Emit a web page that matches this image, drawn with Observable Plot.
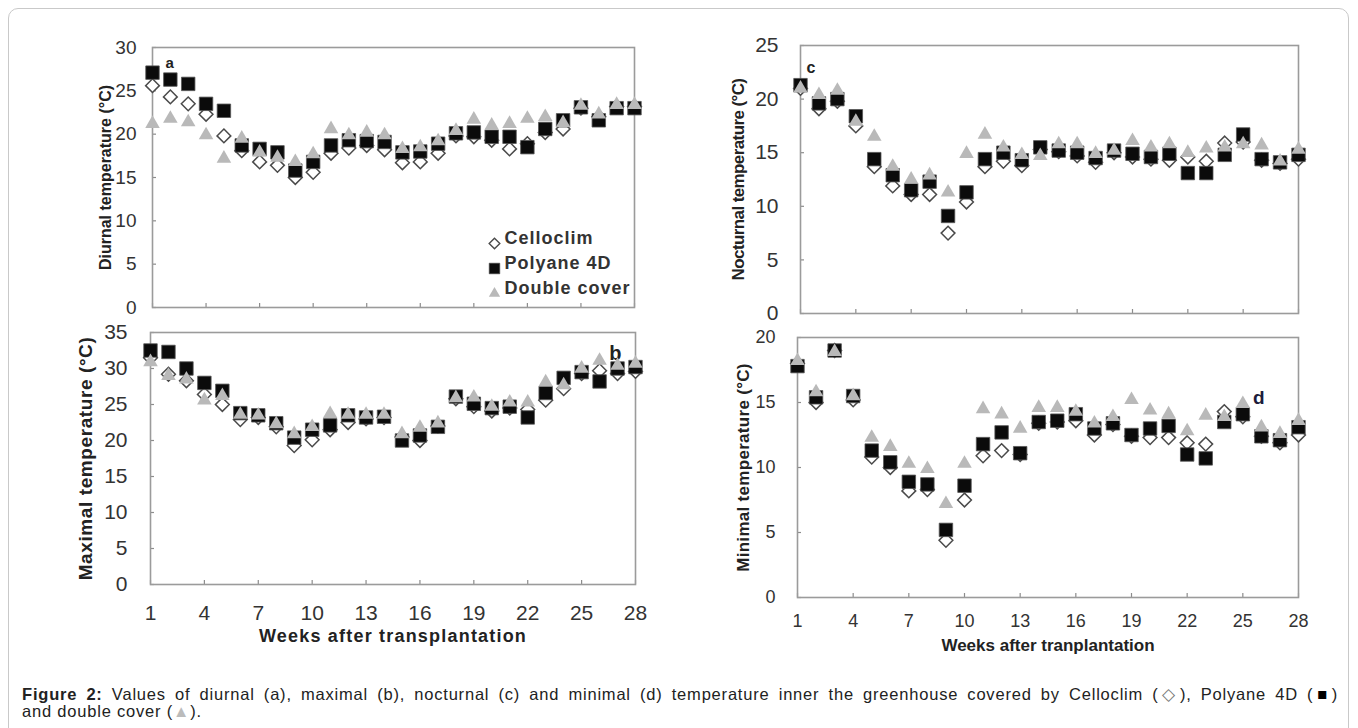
<!DOCTYPE html>
<html>
<head>
<meta charset="utf-8">
<script src="https://cdn.jsdelivr.net/npm/d3@7"></script>
<script src="https://cdn.jsdelivr.net/npm/@observablehq/plot@0.6"></script>
<style>
  body { margin: 0; background: #fff; }
  #fig { position: relative; width: 1358px; height: 728px; overflow: hidden; font-family: "Liberation Sans", Arial, sans-serif; background: #fff; }
  #border { position: absolute; left: 8px; top: 8px; width: 1341px; height: 740px; border: 1px solid #c9c9c9; border-radius: 10px; box-sizing: border-box; }
  .panel { position: absolute; }
  .cap { position: absolute; left: 22px; width: 1316px; font-size: 16.5px; letter-spacing: 0.8px; color: #222; line-height: 17px; }
  #cap1 { top: 686px; text-align: justify; text-align-last: justify; }
  #cap2 { top: 703px; }
</style>
</head>
<body>
<div id="fig">
  <div id="border"></div>
  <div id="cap1" class="cap"><b>Figure 2:</b> Values of diurnal (a), maximal (b), nocturnal (c) and minimal (d) temperature inner the greenhouse covered by Celloclim (<span style="color:#777">◇</span>), Polyane 4D (<span style="color:#000">■</span>)</div>
  <div id="cap2" class="cap">and double cover (<span style="color:#bbb">▲</span>).</div>
</div>
<script>
// ---------- data ----------
const weeks = [1,2,3,4,5,6,7,8,9,10,11,12,13,14,15,16,17,18,19,20,21,22,23,24,25,26,27,28];
const xTickValues = [1,4,7,10,13,16,19,22,25,28];
const seriesNames = ["Celloclim", "Polyane 4D", "Double cover"];

// (a) diurnal temperature
const diurnalCelloclim = [25.6,24.3,23.5,22.3,19.8,18.1,16.8,16.4,15.0,15.6,17.8,18.4,18.7,18.2,16.7,16.8,17.8,19.8,19.7,19.3,18.3,18.9,20.2,20.6,23.0,22.0,23.2,23.2];
const diurnalPolyane   = [27.1,26.3,25.8,23.5,22.7,18.7,18.3,17.9,15.8,16.8,18.7,19.3,19.2,19.1,17.9,18.0,18.9,20.1,20.2,19.7,19.7,18.5,20.6,21.6,23.1,21.6,23.0,23.0];
const diurnalDouble    = [21.2,21.8,21.4,19.9,17.2,19.5,17.9,17.3,16.8,17.7,20.6,19.9,20.2,19.9,18.3,18.5,19.2,20.4,21.7,21.0,21.2,21.8,22.0,21.3,23.3,22.3,23.4,23.4];

// (b) maximal temperature
const maximalCelloclim = [31.5,29.2,28.3,26.4,25.0,22.9,23.2,21.9,19.3,20.1,21.5,22.5,23.0,23.2,20.5,20.0,22.0,25.8,24.7,24.1,24.5,24.3,25.6,27.2,29.3,29.7,29.3,29.6];
const maximalPolyane   = [32.5,32.3,30.0,28.0,26.9,23.8,23.5,22.4,20.4,21.5,22.1,23.5,23.2,23.3,20.0,20.7,21.9,26.1,25.1,24.5,24.7,23.2,26.6,28.7,29.5,28.2,30.0,30.2];
const maximalDouble    = [30.9,29.0,28.5,25.6,26.2,23.6,23.5,22.3,20.9,21.9,23.7,23.6,23.6,23.6,20.9,21.8,22.4,25.9,26.0,24.7,25.3,25.3,28.1,27.7,30.0,31.1,30.4,30.7];

// (c) nocturnal temperature
const nocturnalCelloclim = [21.0,19.1,19.8,17.5,13.7,11.9,11.1,11.1,7.5,10.4,13.7,14.2,13.8,15.3,15.1,14.7,14.1,15.0,14.6,14.4,14.3,14.6,14.2,15.9,16.0,14.3,14.0,14.4];
const nocturnalPolyane   = [21.3,19.6,20.0,18.4,14.4,12.9,11.5,12.3,9.1,11.3,14.4,15.0,14.3,15.5,15.2,15.0,14.5,15.2,14.9,14.6,14.9,13.1,13.1,14.8,16.7,14.4,14.1,14.8];
const nocturnalDouble    = [21.0,20.4,20.8,17.9,16.5,13.7,12.5,12.9,11.3,14.9,16.7,15.5,14.8,14.7,15.8,15.8,14.9,15.2,16.1,15.5,15.8,15.0,15.4,15.5,15.8,15.7,14.2,15.3];

// (d) minimal temperature
const minimalCelloclim = [18.0,15.0,19.0,15.2,10.8,10.0,8.2,8.3,4.4,7.5,10.9,11.3,11.0,13.4,13.5,13.6,12.5,13.3,12.4,12.3,12.3,11.9,11.8,14.3,13.9,12.4,11.9,12.5];
const minimalPolyane   = [17.8,15.4,19.0,15.5,11.3,10.4,8.9,8.7,5.2,8.6,11.8,12.7,11.1,13.5,13.6,14.1,13.0,13.4,12.5,13.0,13.2,11.0,10.7,13.5,14.1,12.4,12.1,13.1];
const minimalDouble    = [18.2,15.8,18.9,15.5,12.3,11.6,10.3,9.9,7.2,10.3,14.5,14.1,13.0,14.6,14.6,14.3,13.4,13.9,15.2,14.4,14.1,12.8,14.0,13.9,14.9,13.1,12.6,13.6];

const yTicksA = [0,5,10,15,20,25,30];
const yTicksB = [0,5,10,15,20,25,30,35];
const yTicksC = [0,5,10,15,20,25];
const yTicksD = [0,5,10,15,20];

// ---------- styles ----------
const seriesStyle = [
  {symbol: "diamond2", r: 6.2, fill: "white", stroke: "#4a4a4a", strokeWidth: 1.5},
  {symbol: "square", r: 7.6, fill: "#0b0b0b", stroke: "#555", strokeWidth: 0.8},
  {symbol: "triangle", r: 5.4, fill: "#b9b9b9", stroke: "none"}
];
const legendStyle = [
  {symbol: "diamond2", r: 4.8, fill: "white", stroke: "#4a4a4a", strokeWidth: 1.4},
  {symbol: "square", r: 6, fill: "#0b0b0b", stroke: "#555", strokeWidth: 0.6},
  {symbol: "triangle", r: 4.2, fill: "#b9b9b9", stroke: "none"}
];

function rows(values) { return weeks.map((w, i) => ({week: w, value: values[i]})); }

function panel(cfg) {
  const [x0, y0, x1, y1] = cfg.frame;
  const mL = 125, mT = 12, mR = 15, mB = cfg.xTitle ? 78 : 12;
  const width = mL + (x1 - x0) + mR;
  const height = mT + (y1 - y0) + mB;
  const marks = [
    Plot.ruleX(xTickValues, {x: d => d, y1: 0, y2: 0, insetBottom: 4, stroke: "#8c8c8c", strokeWidth: 1.2}),
    Plot.ruleY(cfg.yTicks, {y: d => d, x1: 1, x2: 1, insetRight: -4, stroke: "#8c8c8c", strokeWidth: 1.2}),
    Plot.frame({stroke: "#9b9b9b", strokeWidth: 1.6}),
    Plot.axisY(cfg.yTicks, {tickSize: 0, tickPadding: cfg.yPad, fontSize: cfg.yFont, fill: "#333", label: null}),
    Plot.text([cfg.yTitle], {frameAnchor: "left", rotate: -90, dx: cfg.yTitleDx, fontWeight: "bold", fontSize: cfg.yTitleFont, fill: "#222", textAnchor: "middle"}),
    Plot.text([cfg.letter], {frameAnchor: cfg.letterAnchor, dx: cfg.letterDx, dy: cfg.letterDy, fontWeight: "bold", fontSize: cfg.letterFont, fill: cfg.letterColor || "#222"})
  ];
  if (cfg.xTitle) {
    marks.push(Plot.axisX(xTickValues, {tickSize: 0, tickPadding: cfg.xPad, fontSize: cfg.xFont, fill: "#333", label: null}));
    marks.push(Plot.text([cfg.xTitle], {frameAnchor: "bottom", dy: cfg.xTitleDy, fontWeight: "bold", fontSize: cfg.xTitleFont, fill: "#222"}));
  }
  cfg.values.forEach((vals, i) => {
    marks.push(Plot.dot(rows(vals), {x: "week", y: "value", ...seriesStyle[i]}));
  });
  if (cfg.legend) {
    seriesNames.forEach((name, i) => {
      marks.push(Plot.dot([name], {frameAnchor: "bottom-left", dx: 342, dy: -64 + 25 * i, ...legendStyle[i]}));
      marks.push(Plot.text([name], {frameAnchor: "bottom-left", dx: 352, dy: -64 + 25 * i, textAnchor: "start", fontWeight: "bold", fontSize: 18, fill: "#333"}));
    });
  }
  const svg = Plot.plot({
    width, height,
    marginLeft: mL, marginRight: mR, marginTop: mT, marginBottom: mB,
    x: {domain: [1, 28], axis: null},
    y: {domain: [0, cfg.yTicks[cfg.yTicks.length - 1]], axis: null},
    style: {fontFamily: "'Liberation Sans', Arial, sans-serif", background: "transparent", overflow: "visible"},
    marks
  });
  const sel = d3.select(svg).selectAll("text");
  sel.filter(function () { return this.textContent === cfg.xTitle; }).attr("letter-spacing", cfg.xTitleSpacing || 0);
  sel.filter(function () { return this.textContent === cfg.yTitle; }).attr("letter-spacing", cfg.yTitleSpacing || 0);
  if (cfg.legend) sel.filter(function () { return seriesNames.includes(this.textContent); }).attr("letter-spacing", 1);
  const div = document.createElement("div");
  div.className = "panel";
  div.style.left = (x0 - mL) + "px";
  div.style.top = (y0 - mT) + "px";
  div.appendChild(svg);
  document.getElementById("fig").appendChild(div);
}

panel({
  frame: [152, 47, 634, 307], yTicks: yTicksA, yPad: 16, yFont: 19,
  yTitle: "Diurnal temperature (°C)", yTitleDx: -47, yTitleFont: 16,
  letter: "a", letterAnchor: "top-left", letterDx: 13, letterDy: 10, letterFont: 15,
  values: [diurnalCelloclim, diurnalPolyane, diurnalDouble], legend: true
});
panel({
  frame: [150, 332, 635, 584], yTicks: yTicksB, yPad: 23, yFont: 21,
  yTitle: "Maximal temperature (°C)", yTitleDx: -65, yTitleFont: 19, yTitleSpacing: 0.6,
  letter: "b", letterAnchor: "top-right", letterDx: -14, letterDy: 13, letterFont: 20,
  xTitle: "Weeks after transplantation", xPad: 21, xFont: 21, xTitleDy: 57, xTitleFont: 18, xTitleSpacing: 1.2,
  values: [maximalCelloclim, maximalPolyane, maximalDouble]
});
panel({
  frame: [800, 45, 1298, 313], yTicks: yTicksC, yPad: 22, yFont: 21,
  yTitle: "Nocturnal temperature (°C)", yTitleDx: -62, yTitleFont: 17, yTitleSpacing: -0.6,
  letter: "c", letterAnchor: "top-left", letterDx: 6, letterDy: 16, letterFont: 16,
  values: [nocturnalCelloclim, nocturnalPolyane, nocturnalDouble]
});
panel({
  frame: [797, 337, 1298, 597], yTicks: yTicksD, yPad: 22, yFont: 18,
  yTitle: "Minimal temperature (°C)", yTitleDx: -54, yTitleFont: 17, yTitleSpacing: 0.3,
  letter: "d", letterAnchor: "top-right", letterDx: -34, letterDy: 53, letterFont: 19, letterColor: "#1c1c3c",
  xTitle: "Weeks after tranplantation", xPad: 17, xFont: 18, xTitleDy: 53, xTitleFont: 17, xTitleSpacing: 0,
  values: [minimalCelloclim, minimalPolyane, minimalDouble]
});
</script>
</body>
</html>
